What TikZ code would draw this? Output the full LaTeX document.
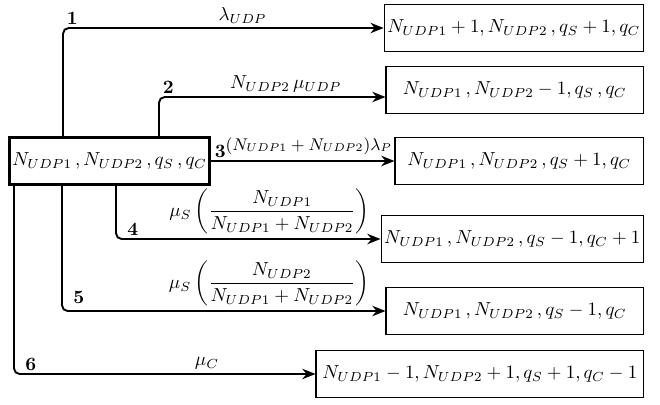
\documentclass[tikz,border=0pt]{standalone}
\usepackage{amsmath}
\usetikzlibrary{arrows.meta,positioning}
\def\pu{0.53pt}
\tikzstyle{state}=[draw,thick,minimum height=47*\pu,inner sep=1.5pt]
\tikzstyle{startstate}=[draw,line width=1.5pt,minimum height=47*\pu,minimum width=195*\pu,inner sep=1.5pt]
\tikzstyle{trans}=[draw,line width=1pt,-{Stealth[length=7pt,width=5.5pt]},rounded corners=3pt]
\tikzstyle{num}=[font=\bfseries,inner sep=1.5pt]
\tikzstyle{rate}=[inner sep=2pt]
\begin{document}
\begin{tikzpicture}[x=\pu,y=\pu]
\useasboundingbox (0,0) rectangle (660,-404);

    % start state
    \node[startstate] (src) at (109.5,-161) {$N_{UDP1}\,,N_{UDP2}\,,q_S\,,q_C$};

    % target states
    \foreach \pos/\name/\w/\label in {{(644,-28)/s1/255/{N_{UDP1}+1,N_{UDP2}\,,q_S+1,q_C}},
        {(644,-90)/s2/257/{N_{UDP1}\,,N_{UDP2}-1,q_S\,,q_C}},
        {(644,-161)/s3/248/{N_{UDP1}\,,N_{UDP2}\,,q_S+1,q_C}},
        {(644,-239)/s4/257/{N_{UDP1}\,,N_{UDP2}\,,q_S-1,q_C+1}},
        {(644,-311)/s5/257/{N_{UDP1}\,,N_{UDP2}\,,q_S-1,q_C}},
        {(644,-374)/s6/327/{N_{UDP1}-1,N_{UDP2}+1,q_S+1,q_C-1}}}
        \node[state,anchor=east,minimum width=\w*\pu] (\name) at \pos {$\label$};

    % transitions with their rates
    \draw[trans] ([xshift=-46.5*\pu]src.north) |- node[num,above right,pos=0.5] (n1) {1}
        node[rate,above,pos=0.78] (r1) {$\lambda_{UDP}$} (s1.west);
    \draw[trans] ([xshift=49.5*\pu]src.north) |- node[num,above right,pos=0.5] (n2) {2}
        node[rate,above,pos=0.78] (r2) {$N_{UDP2}\,\mu_{UDP}$} ([yshift=-7*\pu]s2.west);
    \draw[trans] (src.east) -- node[num,above right,pos=0] (n3) {3}
        node[rate,above right,pos=0,xshift=10*\pu,yshift=2*\pu,font=\fontsize{9}{11}\selectfont] (r3) {$(N_{UDP1}+N_{UDP2})\lambda_P$} (s3.west);
    \draw[trans] ([xshift=6.5*\pu]src.south) |- node[num,above right,pos=0.5,xshift=4pt] (n4) {4}
        node[rate,above,pos=0.79] (r4) {$\mu_S\left(\dfrac{N_{UDP1}}{N_{UDP1}+N_{UDP2}}\right)$} (s4.west);
    \draw[trans] ([xshift=-47.5*\pu]src.south) |- node[num,above right,pos=0.5,xshift=4pt,yshift=2pt] (n5) {5}
        node[rate,above,pos=0.82] (r5) {$\mu_S\left(\dfrac{N_{UDP2}}{N_{UDP1}+N_{UDP2}}\right)$} (s5.west);
    \draw[trans] ([xshift=-95.5*\pu]src.south) |- node[num,above right,pos=0.5,xshift=4pt] (n6) {6}
        node[rate,above,pos=0.82] (r6) {$\mu_C$} (s6.west);

\end{tikzpicture}
\end{document}
